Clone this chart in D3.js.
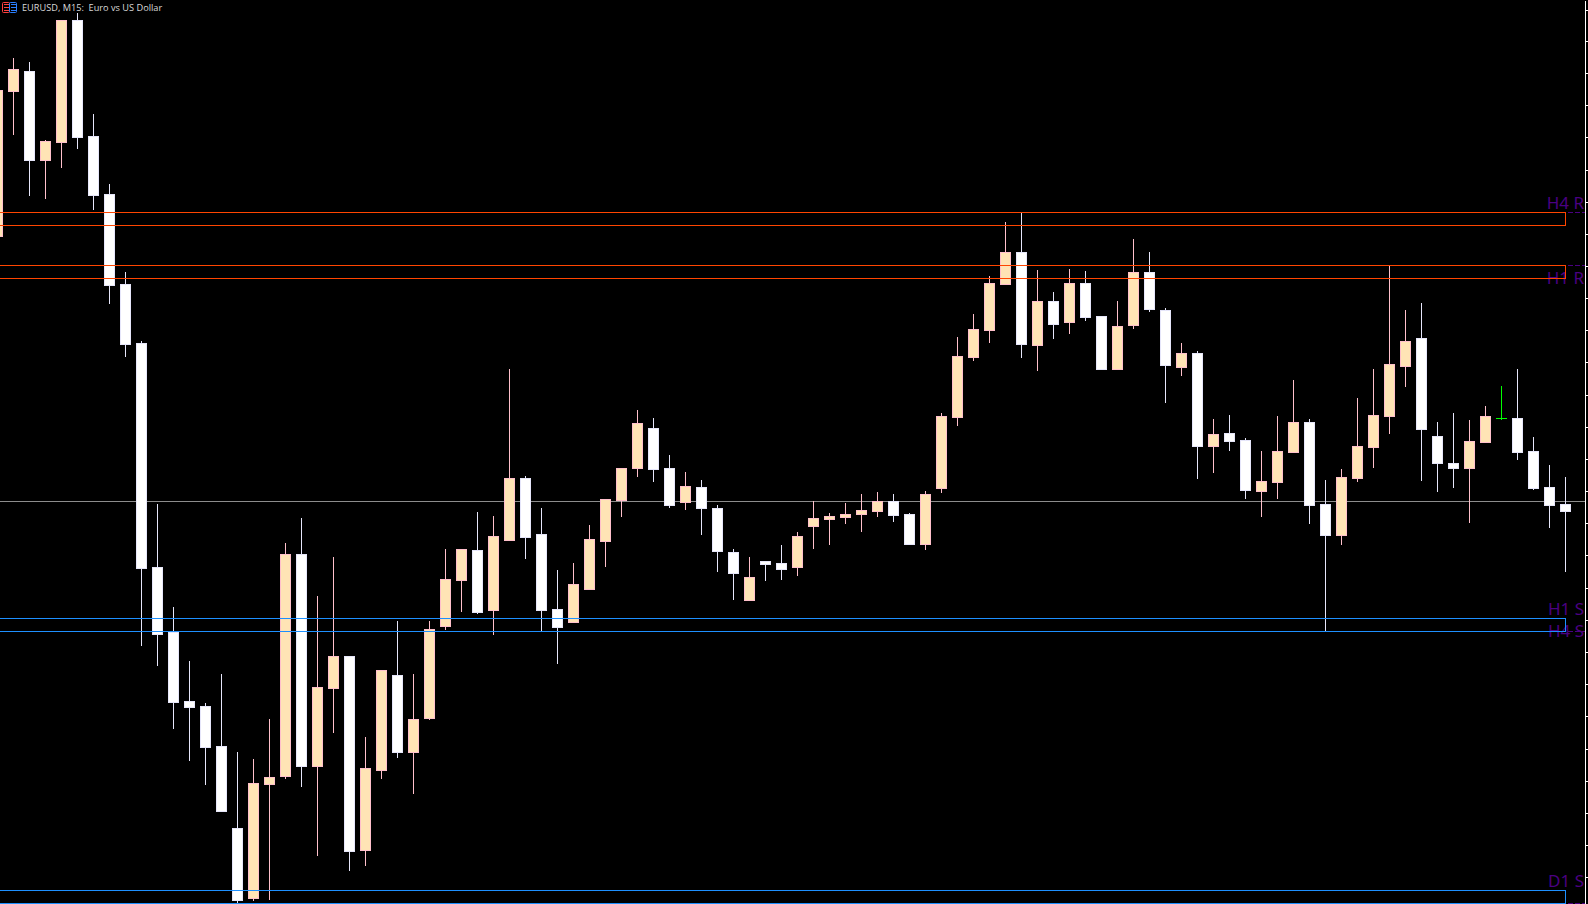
<!DOCTYPE html>
<html lang="en">
<head>
    <meta charset="UTF-8">
    <title>EURUSD, M15</title>
    <script src="https://d3js.org/d3.v7.min.js"></script>
    <style>
        html, body {
            margin: 0;
            background: #000;
            overflow: hidden;
        }
        svg {
            display: block;
        }
        .title {
            font-family: "Open Sans", sans-serif;
            font-size: 9.2px;
            fill: #d8d8d8;
        }
        .level-label {
            font-family: "Noto Sans", sans-serif;
            font-size: 17px;
            fill: #4b0082;
            text-anchor: end;
        }
        .axis path, .axis line {
            stroke: #fff;
            shape-rendering: crispEdges;
        }
    </style>
</head>
<body>
    <div id="chart"></div>
    <script>
        // the price axis has no readable labels in the shot, so prices are in points above the chart bottom
        const opens = [667, 812, 833, 743, 761, 884, 768, 710, 620, 561, 337, 272, 203, 198, 158, 76, 5, 119, 127, 350,
            137, 215, 248, 53, 133, 229, 151, 185, 277, 323, 354, 293, 363, 426, 370, 295, 281, 314, 362, 403,
            435, 476, 436, 401, 417, 396, 352, 303, 343, 341, 336, 377, 384, 386, 389, 392, 403, 390, 359, 415,
            486, 546, 573, 619, 652, 558, 603, 581, 621, 588, 534, 578, 632, 594, 536, 551, 457, 471, 464, 412,
            421, 451, 482, 400, 368, 425, 456, 487, 537, 566, 468, 441, 435, 461, 486, 486, 453, 417, 400];
        const highs = [814, 846, 842, 764, 884, 891, 790, 720, 632, 563, 400, 297, 243, 201, 230, 152, 145, 185, 361, 386,
            308, 347, 248, 167, 234, 283, 230, 283, 355, 355, 392, 388, 535, 428, 396, 334, 341, 379, 405, 436,
            494, 486, 449, 432, 424, 399, 355, 347, 343, 359, 372, 403, 391, 401, 410, 412, 410, 391, 413, 491,
            567, 590, 628, 682, 691, 634, 612, 635, 633, 588, 603, 665, 652, 596, 561, 553, 485, 489, 466, 453,
            488, 524, 485, 424, 435, 506, 535, 638, 594, 601, 482, 491, 484, 498, 518, 535, 467, 439, 427];
        const lows = [667, 769, 708, 705, 736, 755, 694, 600, 547, 258, 238, 175, 143, 119, 92, 1, 3, 4, 125, 117,
            48, 171, 33, 38, 125, 146, 110, 184, 274, 292, 290, 269, 363, 345, 273, 240, 281, 314, 337, 387,
            427, 422, 396, 394, 369, 332, 304, 303, 323, 324, 328, 355, 359, 380, 372, 387, 382, 359, 354, 411,
            478, 543, 561, 619, 546, 533, 565, 570, 583, 534, 534, 575, 592, 501, 528, 425, 431, 453, 405, 387,
            405, 451, 380, 273, 359, 422, 436, 470, 517, 423, 412, 416, 381, 461, 484, 444, 414, 376, 332];
        const closes = [814, 835, 743, 763, 884, 766, 708, 618, 559, 335, 269, 201, 196, 156, 92, 3, 121, 127, 350, 137,
            217, 248, 52, 136, 234, 151, 185, 275, 325, 355, 291, 368, 426, 366, 293, 276, 320, 365, 405, 436,
            481, 434, 398, 418, 395, 352, 330, 327, 339, 334, 368, 386, 388, 390, 394, 403, 388, 359, 410, 488,
            548, 575, 621, 652, 559, 603, 579, 621, 586, 534, 578, 632, 594, 538, 551, 457, 470, 462, 413, 423,
            453, 482, 398, 368, 427, 458, 489, 540, 563, 474, 440, 435, 463, 488, 486, 451, 415, 398, 392];

        const resistanceZones = [[692, 679], [639, 626]];
        const supportZones = [[286, 273], [14, 1]];
        const levelLines = [692, 639, 273, 1];
        const levelLabels = ["H4 R", "H1 R", "H1 S", "H4 S", "D1 S"];
        const levelLabelPrices = [695, 620, 289, 267, 17];
        const bidPrice = 403;
        const axisTicks = [894, 863, 831, 799, 767, 734, 702, 670, 638, 606, 574, 542, 509, 477, 445, 413, 381, 349,
            316, 284, 252, 220, 188, 155, 123, 91, 59, 27];

        const width = 1588;
        const height = 904;
        const plotRight = 1585;
        const zoneRight = 1565;

        const bull = { fill: "#ffe4b5", stroke: "#ffc0cb" };
        const bear = { fill: "#ffffff", stroke: "#e6e6fa" };

        const x = d3.scaleLinear().domain([0, opens.length - 1]).range([-3, zoneRight]);
        const y = d3.scaleLinear().domain([0, height]).range([height, 0]);

        const svg = d3.select("#chart")
            .append("svg")
            .attr("width", width)
            .attr("height", height)
            .style("background", "#000");

        // bid line sits behind the candles
        svg.append("line")
            .attr("x1", 0)
            .attr("x2", plotRight)
            .attr("y1", y(bidPrice) + 0.5)
            .attr("y2", y(bidPrice) + 0.5)
            .attr("stroke", "#8c8c8c");

        svg.selectAll(".level-line")
            .data(levelLines)
            .enter()
            .append("line")
            .attr("class", "level-line")
            .attr("x1", 0)
            .attr("x2", plotRight)
            .attr("y1", d => y(d) + 0.5)
            .attr("y2", d => y(d) + 0.5)
            .attr("stroke", "#4b0082")
            .attr("stroke-dasharray", "5,2");

        const candles = svg.selectAll(".candle")
            .data(opens.map((d, i) => i))
            .enter()
            .append("g")
            .attr("class", "candle")
            .attr("transform", i => `translate(${x(i) + 0.5},0)`);

        candles.filter(i => opens[i] !== closes[i]).each(function (i) {
            const style = closes[i] > opens[i] ? bull : bear;
            const top = y(Math.max(opens[i], closes[i]));
            const bottom = y(Math.min(opens[i], closes[i]));
            const g = d3.select(this);
            g.append("line")
                .attr("y1", y(highs[i]))
                .attr("y2", y(lows[i]))
                .attr("stroke", style.stroke);
            g.append("rect")
                .attr("x", -5)
                .attr("y", top + 0.5)
                .attr("width", 10)
                .attr("height", bottom - top - 1)
                .attr("fill", style.fill)
                .attr("stroke", style.stroke);
        });

        // doji
        candles.filter(i => opens[i] === closes[i]).each(function (i) {
            const g = d3.select(this);
            g.append("line")
                .attr("y1", y(highs[i]))
                .attr("y2", y(lows[i]))
                .attr("stroke", "#00ff00");
            g.append("line")
                .attr("x1", -5.5)
                .attr("x2", 5.5)
                .attr("y1", y(opens[i]) + 0.5)
                .attr("y2", y(opens[i]) + 0.5)
                .attr("stroke", "#00ff00");
        });

        svg.selectAll(".level-label")
            .data(levelLabels)
            .enter()
            .append("text")
            .attr("class", "level-label")
            .attr("x", plotRight - 1)
            .attr("y", (d, i) => y(levelLabelPrices[i]))
            .text(d => d);

        // zones go on top of the candles
        const drawZones = (zones, color) => {
            svg.selectAll(null)
                .data(zones)
                .enter()
                .append("rect")
                .attr("x", -5)
                .attr("y", d => y(d[0]) + 0.5)
                .attr("width", x(opens.length - 1) + 5.5)
                .attr("height", d => y(d[1]) - y(d[0]))
                .attr("fill", "none")
                .attr("stroke", color);
        };
        drawZones(resistanceZones, "#ff4500");
        drawZones(supportZones, "#1e90ff");

        const axis = d3.axisRight(y)
            .tickValues(axisTicks)
            .tickSizeInner(3)
            .tickSizeOuter(0)
            .tickFormat("");
        svg.append("g")
            .attr("class", "axis")
            .attr("transform", `translate(${plotRight},0)`)
            .call(axis);

        // chart window icon and title
        const icon = svg.append("g");
        const iconParts = [[2, "#ff4040"], [9, "#2b7fff"]];
        iconParts.forEach(([left, color]) => {
            icon.append("rect")
                .attr("x", left + 0.5)
                .attr("y", 2.5)
                .attr("width", 7)
                .attr("height", 10)
                .attr("rx", 1)
                .attr("fill", "none")
                .attr("stroke", color);
            [4, 7, 10].forEach(row => {
                icon.append("line")
                    .attr("x1", left + 2)
                    .attr("x2", left + 7)
                    .attr("y1", row + 0.5)
                    .attr("y2", row + 0.5)
                    .attr("stroke", color);
            });
        });

        svg.append("text")
            .attr("class", "title")
            .attr("x", 22)
            .attr("y", 11)
            .attr("xml:space", "preserve")
            .style("white-space", "pre")
            .text("EURUSD, M15:  Euro vs US Dollar");
    </script>
</body>
</html>
